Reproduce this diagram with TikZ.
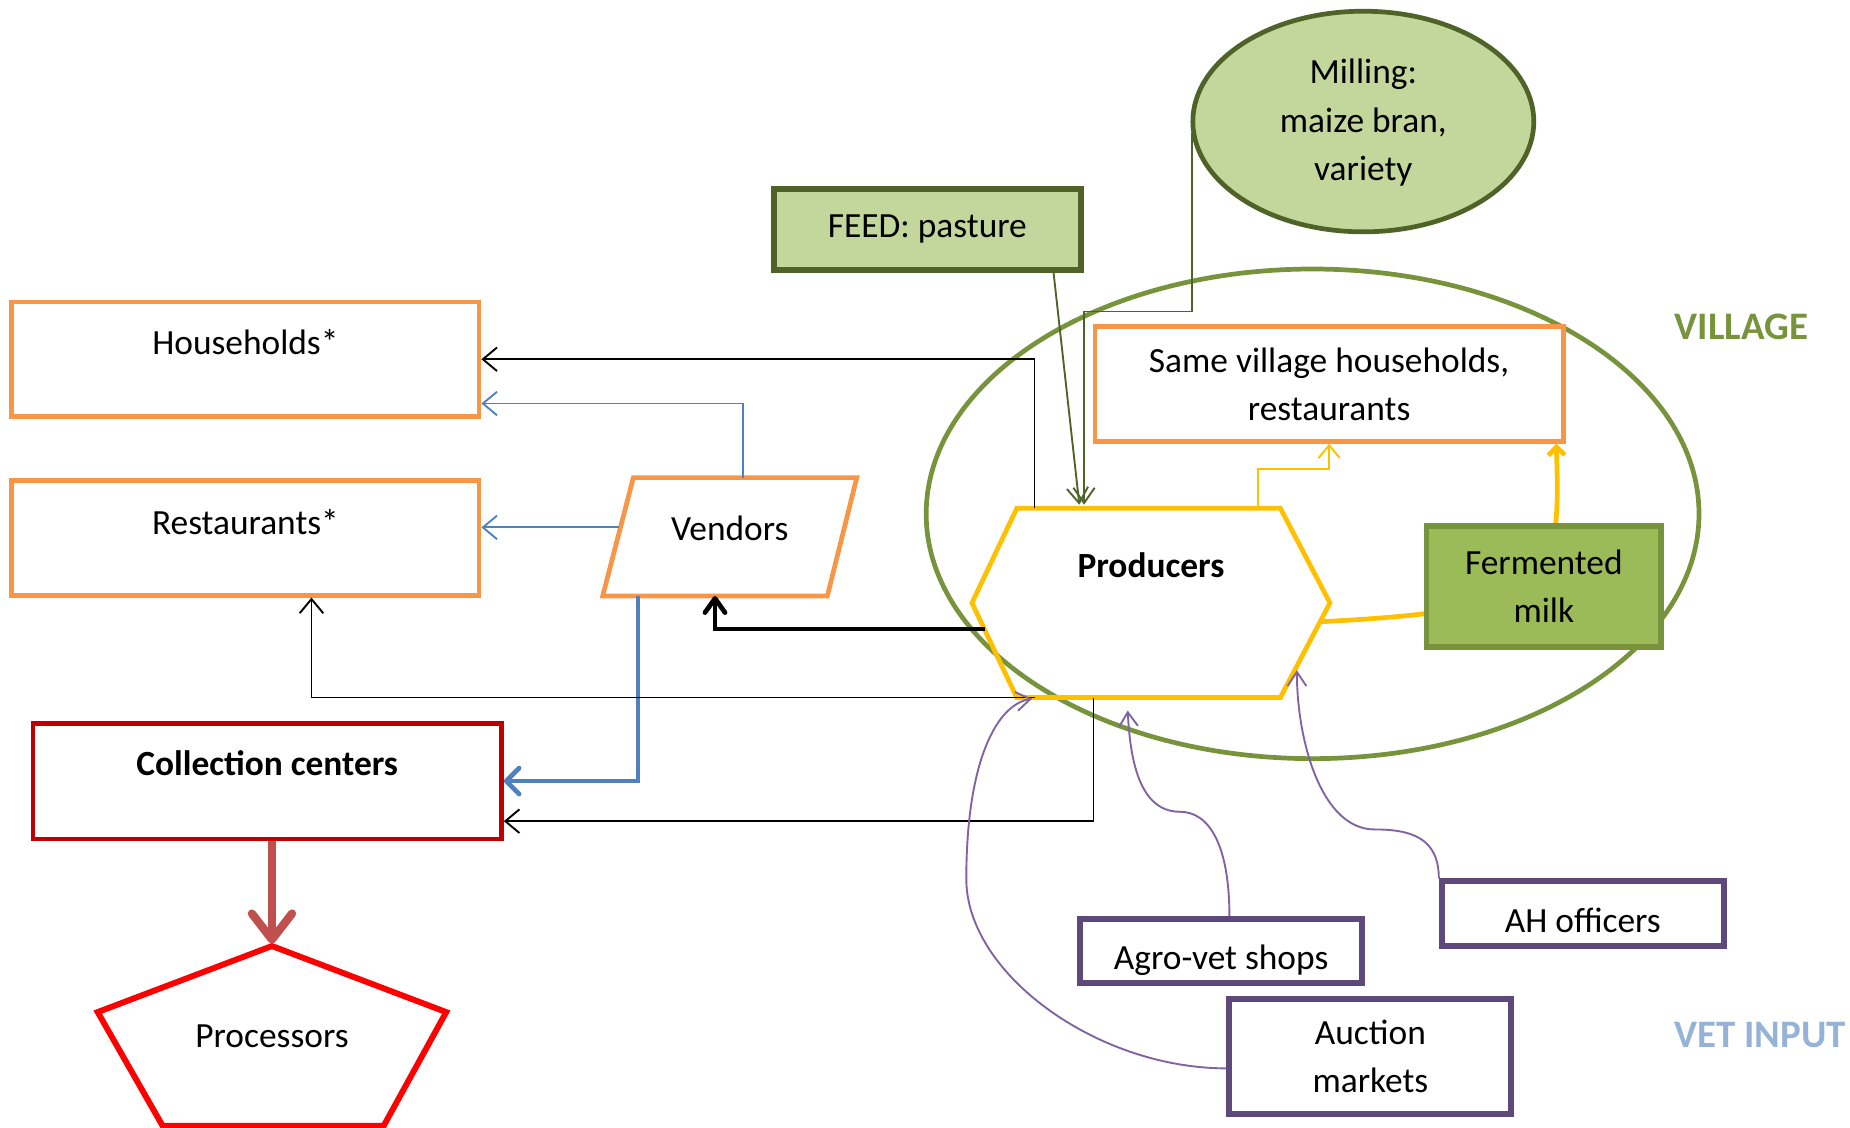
\documentclass[tikz,border=0pt]{standalone}
\usepackage{fontspec}
\setmainfont{Carlito}
\usetikzlibrary{arrows.meta,calc,shapes.geometric}
\definecolor{orng}{HTML}{F79646}
\definecolor{darkred}{HTML}{C00000}
\definecolor{arrowred}{HTML}{C0504D}
\definecolor{yell}{HTML}{FFC000}
\definecolor{blu}{HTML}{4F81BD}
\definecolor{villgreen}{HTML}{77933C}
\definecolor{lightgreen}{HTML}{C3D69B}
\definecolor{darkgreen}{HTML}{4F6228}
\definecolor{midgreen}{HTML}{9BBB59}
\definecolor{purp}{HTML}{5F497A}
\definecolor{lilac}{HTML}{8064A2}
\definecolor{vetblue}{HTML}{95B3D7}
\pgfdeclarelayer{bg}
\pgfsetlayers{bg,main}

\begin{document}
\begin{tikzpicture}[x=1pt,y=-1pt,
    font=\fontsize{30}{41}\selectfont,
    every node/.style={inner sep=0pt,align=center},
    orangebox/.style={draw=orng,line width=4pt,fill=white,minimum width=396pt,minimum height=97pt},
    purplebox/.style={draw=purp,line width=5pt,fill=white,minimum width=239pt},
    arealabel/.style={font=\fontsize{33}{40}\selectfont\bfseries},
    blackline/.style={line width=1.6pt,-{Straight Barb[length=12pt,width=20pt]}},
    blueline/.style={blu,line width=1.6pt,-{Straight Barb[length=12pt,width=20pt]}},
    thickblue/.style={blu,line width=4pt,-{Straight Barb[length=11pt,width=22pt,round]}},
    thickblack/.style={line width=4pt,-{Straight Barb[length=12pt,width=17pt,round]}},
    greenline/.style={darkgreen,line width=1.6pt,-{Straight Barb[length=13pt,width=18pt]}},
    yellowline/.style={yell,line width=1.6pt,-{Straight Barb[length=11pt,width=18pt]}},
    yellowthick/.style={yell,line width=4pt,-{Straight Barb[length=7pt,width=14pt]}},
    purpleline/.style={lilac,line width=1.6pt,-{Straight Barb[length=12pt,width=16pt]}},
    redarrow/.style={arrowred,line width=7pt,-{Straight Barb[length=22pt,width=34pt,round]}}]
  \useasboundingbox (0,0) rectangle (1568,956);

  % village
  \node[ellipse,draw=villgreen,line width=4pt,minimum width=655pt,minimum height=415pt] (vill) at (1112.5,435.5) {};
  \node[arealabel,text=villgreen] (villlab) at (1476,277) {VILLAGE};

  % buyers
  \node[orangebox,text depth=29pt] (hh) at (208,304.5) {Households*};
  \node[orangebox,text depth=28pt] (rest) at (208,456) {Restaurants*};
  \node[minimum width=215pt,minimum height=100pt,text depth=14pt] (vend) at (618.5,455) {Vendors};
  \draw[orng,line width=4pt] (vend.south west) -- ($(vend.north west)+(26,0)$) -- (vend.north east)
    -- ($(vend.south east)+(-25,0)$) -- cycle;
  \node[draw=darkred,line width=4pt,minimum width=397pt,minimum height=98pt,text depth=30pt] (coll) at (226.5,662) {\bfseries Collection centers};
  \node[minimum width=295pt,minimum height=152pt] (proc) at (230.5,878) {Processors};
  \draw[red,line width=5pt] (proc.north) -- ($(proc.north east)+(0,56)$) -- ($(proc.south east)+(-53,0)$)
    -- ($(proc.south west)+(55,0)$) -- ($(proc.north west)+(0,56)$) -- cycle;

  % feed
  \node[draw=darkgreen,fill=lightgreen,line width=5pt,minimum width=260pt,minimum height=69pt] (feed) at (786,194.5) {FEED: pasture};
  \node[ellipse,draw=darkgreen,fill=lightgreen,line width=4pt,minimum width=289pt,minimum height=187pt] (mill) at (1155.5,103) {};
  \node (milltext) at (1155.5,104) {Milling:\\maize bran,\\variety};

  % inside the village
  \node[orangebox,minimum width=397pt] (same) at (1126.5,325.5) {Same village households,\\restaurants};
  \node[draw=villgreen,fill=midgreen,line width=5pt,minimum width=199pt,minimum height=102pt] (ferm) at (1308.5,497) {Fermented\\milk};
  \node[minimum width=303pt,minimum height=160pt,text depth=64pt] (prod) at (975.5,511) {\bfseries Producers};
  \draw[yell,line width=4pt] (prod.west) -- ($(prod.north west)+(38,0)$) -- ($(prod.north east)+(-42,0)$) -- (prod.east)
    -- ($(prod.south east)+(-42,0)$) -- ($(prod.south west)+(38,0)$) -- cycle;

  % vet inputs
  \node[purplebox,minimum height=54pt,text height=36pt] (agro) at (1035,806) {Agro-vet shops};
  \node[purplebox,minimum height=55pt,text height=32pt] (ah) at (1341.5,774.5) {AH officers};
  \node[purplebox,minimum height=97pt] (auct) at (1161.5,895.5) {Auction\\markets};
  \node[arealabel,anchor=west,text=vetblue] (vetlab) at (1419,877) {VET INPUT};

  % milk flows
  \draw[blackline] ($(prod.north west)+(53,0)$) |- (hh.east);
  \draw[blueline] ($(vend.north)+(11,0)$) |- ([yshift=-37.5pt]hh.east);
  \draw[blueline] ($(vend.west)+(14,-8)$) coordinate (v1) -- (v1 -| rest.east);
  \draw[thickblue] ($(vend.south west)+(30,0)$) |- (coll.east);
  \draw[thickblack] ($(prod.west)+(11,22)$) -| ($(vend.south)+(-12.5,0)$);
  \draw[blackline] ($(prod.south west)+(53,0)$) -| ([xshift=56pt]rest.south);
  \draw[blackline] ($(prod.south west)+(103,0)$) |- ([yshift=-34pt]coll.east);
  \draw[redarrow] (coll.south -| proc.north) -- ([yshift=2pt]proc.north);
  \draw[yellowline] ($(prod.north east)+(-61,0)$) -- ++(0,-33) -| (same.south);
  \begin{pgfonlayer}{bg}
    \draw[yellowthick] ($(prod.east)+(-9,16)$) .. controls +(200,-10) and +(4,120) .. ([xshift=-8pt]same.south east);
  \end{pgfonlayer}

  % feed flows
  \draw[greenline] ([xshift=107pt]feed.south) -- ($(prod.north west)+(91,-3)$);
  \draw[greenline] ($(mill.west)+(1,10)$) -- ++(0,151) -| ($(prod.north west)+(95,-3)$);

  % vet flows
  \draw[purpleline] ([xshift=7pt]agro.north) .. controls +(0,-60) and +(25,0) .. (1000,688)
    .. controls +(-35,0) and +(2,40) .. ($(prod.south west)+(132,11)$);
  \draw[purpleline] (ah.north west) .. controls +(0,-35) and +(30,0) .. (1165,703)
    .. controls +(-45,0) and +(0,60) .. ($(prod.east)+(-28,57)$);
  \draw[purpleline] ([yshift=-10pt]auct.west) .. controls +(-110,0) and +(0,80) .. (819,745)
    .. controls +(0,-100) and +(-30,5) .. ($(prod.south west)+(51,1)$);
\end{tikzpicture}
\end{document}
